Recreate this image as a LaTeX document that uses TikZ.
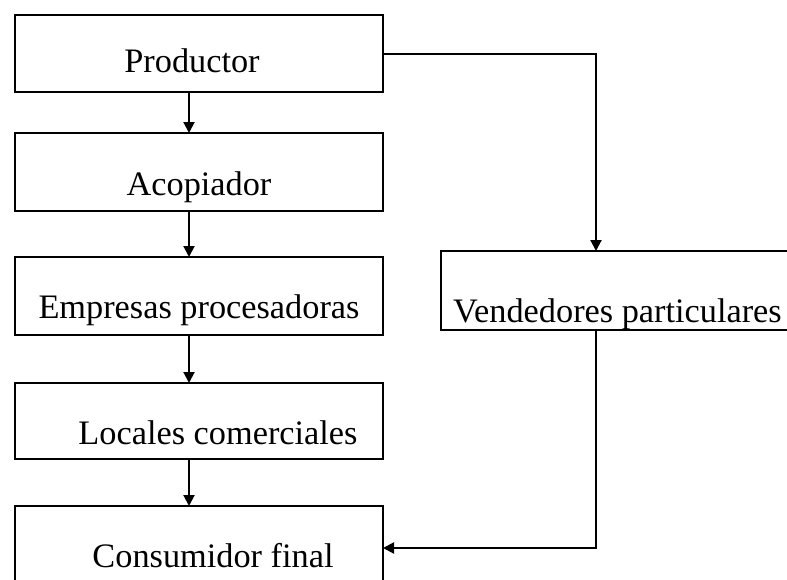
\documentclass[tikz,border=0pt]{standalone}
\usepackage{fontspec}
\setmainfont{Liberation Serif}
\usetikzlibrary{positioning,arrows.meta}

\begin{document}
\begin{tikzpicture}[x=1pt,y=-1pt,
	caja/.style={draw, line width=2.6pt, inner sep=0pt, outer sep=0pt, minimum width=368pt,
		font=\fontsize{34.3}{40}\selectfont},
	flecha/.style={line width=2pt, -{Triangle[length=11pt,width=11pt]}}]
	\useasboundingbox (0,0) rectangle (787,579);
	\clip (0,0) rectangle (787,579);

	% Define nodes
	\node[caja, text height=57pt, text depth=20pt] (P) at (199,53.5) {\hspace*{-14pt}Productor};
	\node[caja, text height=62pt, text depth=16pt, below=41pt of P] (A) {Acopiador};
	\node[caja, text height=61pt, text depth=17pt, below=46pt of A] (E) {Empresas procesadoras};
	\node[caja, text height=61pt, text depth=15pt, below=48pt of E] (L) {\hspace*{38pt}Locales comerciales};
	\node[caja, text height=61pt, text depth=23pt, below=47pt of L] (C) {\hspace*{28pt}Consumidor final};
	\node[caja, minimum width=353pt, text height=71pt, text depth=8pt, right=58pt of E, yshift=5.5pt] (V) {Vendedores particulares};

	% Axis of the arrows
	\coordinate (eje) at (189,0);
	\coordinate (ramal) at (596,0);

	% Connect the nodes
	\draw[flecha] (P.south -| eje) -- (A.north -| eje);
	\draw[flecha] (A.south -| eje) -- (E.north -| eje);
	\draw[flecha] (E.south -| eje) -- (L.north -| eje);
	\draw[flecha] (L.south -| eje) -- (C.north -| eje);
	\draw[flecha] (P.east) -| (V.north -| ramal);
	\draw[flecha] (V.south -| ramal) |- (C.east);
\end{tikzpicture}
\end{document}
